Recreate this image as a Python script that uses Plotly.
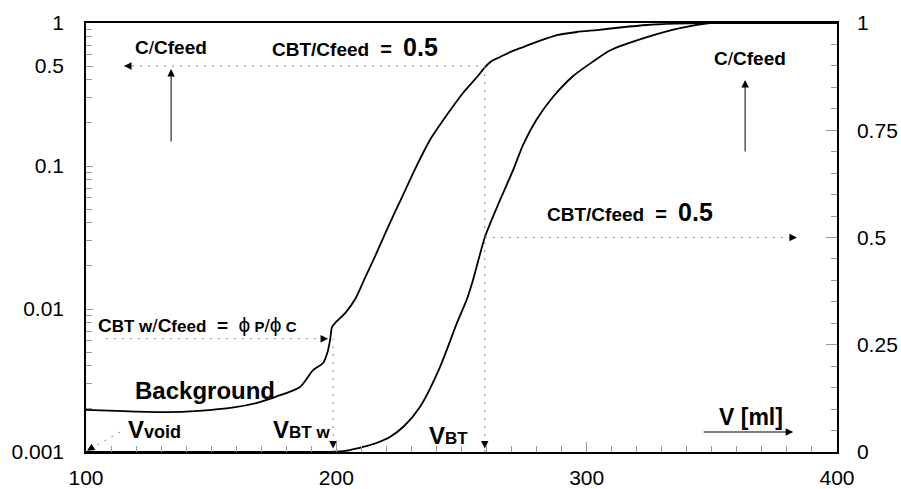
import numpy as np
import plotly.graph_objects as go

# ---- data ----
# background / breakthrough curve on log axis (left)
log_x = [100, 115, 132, 145, 159, 168, 176, 185.5, 190.7, 194.7, 196.5, 197.5, 198.3, 200,
         203.6, 207.6, 211.5, 215.5, 219.4, 223.4, 227.4, 231.4, 237.4, 244.2, 250.6,
         256.2, 259.4, 262.2, 265.4, 269.8, 274.6, 281.4, 288.2, 296.1, 304.1, 313.3,
         324.1, 335.3, 345.3, 400]
log_y = [0.00197, 0.00193, 0.00190, 0.00194, 0.00205, 0.00220, 0.00244, 0.00285, 0.00374,
         0.00419, 0.0050, 0.00607, 0.0075, 0.00815, 0.0094, 0.0118, 0.0166, 0.0234,
         0.0334, 0.0475, 0.0670, 0.0948, 0.152, 0.228, 0.324, 0.419, 0.491, 0.544, 0.578,
         0.630, 0.679, 0.754, 0.824, 0.865, 0.893, 0.930, 0.968, 0.989, 1.0, 1.0]

# breakthrough curve on linear axis (right)
lin_x = [100, 190, 197.5, 200, 205, 210.7, 216, 221.4, 227, 233.4, 241.4, 248.2, 252.2,
         254.6, 259.3, 264.2, 270.6, 274.6, 280, 286.6, 294.5, 302.5, 309.3, 324.1, 337.3,
         349.3, 400]
lin_y = [0, 0, 0.0005, 0.001, 0.004, 0.0117, 0.021, 0.035, 0.06, 0.105, 0.198, 0.301,
         0.357, 0.401, 0.5, 0.571, 0.657, 0.716, 0.775, 0.828, 0.876, 0.910, 0.936, 0.967,
         0.988, 1.0, 1.0]

x_ticks = [100, 200, 300, 400]
left_ticks = [0.001, 0.01, 0.1, 0.5, 1]
left_ticktext = ["0.001", "0.01", "0.1", "0.5", "1"]
right_ticks = [0, 0.25, 0.5, 0.75, 1]
right_ticktext = ["0", "0.25", "0.5", "0.75", "1"]

V_BT = 259.3
V_BTW = 198.7
C_W = 0.0062
V_VOID = 100.4

FONT = "Liberation Sans"


def logfrac(v):
    return (np.log10(v) + 3) / 3.0


fig = go.Figure()
fig.add_trace(go.Scatter(x=log_x, y=log_y, mode="lines", yaxis="y",
                         line=dict(color="black", width=1.8, shape="spline",
                                   smoothing=0.7), showlegend=False))
fig.add_trace(go.Scatter(x=lin_x, y=lin_y, mode="lines", yaxis="y2",
                         line=dict(color="black", width=1.8, shape="spline",
                                   smoothing=0.7), showlegend=False))

minor_x = [v for v in range(110, 400, 10) if v not in x_ticks]
minor_log = []
for dec in [0.001, 0.01, 0.1]:
    for m in range(2, 10):
        if not (dec == 0.1 and m == 5):
            minor_log.append(dec * m)

fig.update_layout(
    width=901, height=489,
    margin=dict(l=86, r=64, t=23, b=37),
    paper_bgcolor="white", plot_bgcolor="white",
    font=dict(family=FONT, color="black", size=21),
    xaxis=dict(range=[100, 400], tickmode="array", tickvals=x_ticks,
               ticks="inside", ticklen=10, tickcolor="#999", tickwidth=1,
               minor=dict(tickmode="array", tickvals=minor_x, ticks="inside",
                          ticklen=6, tickcolor="#999", tickwidth=1),
               showline=True, linecolor="black", linewidth=1.5, mirror=True,
               showgrid=False, zeroline=False, automargin=False,
               ticklabelstandoff=6, tickfont=dict(size=21)),
    yaxis=dict(type="log", range=[-3, 0], tickmode="array", tickvals=left_ticks,
               ticktext=left_ticktext, ticks="inside", ticklen=7, tickcolor="#999",
               minor=dict(tickmode="array", tickvals=minor_log, ticks="inside",
                          ticklen=6, tickcolor="#999", tickwidth=1),
               showline=True, linecolor="black", linewidth=1.5,
               showgrid=False, zeroline=False, automargin=False,
               ticklabelstandoff=16, tickfont=dict(size=21)),
    yaxis2=dict(range=[0, 1], overlaying="y", side="right", tickmode="array",
                tickvals=right_ticks, ticktext=right_ticktext, ticks="inside",
                ticklen=11, tickcolor="#999",
                minor=dict(dtick=0.05, ticks="inside", ticklen=6, tickcolor="#999",
                           tickwidth=1),
                showline=True, linecolor="black", linewidth=1.5,
                showgrid=False, zeroline=False, automargin=False,
                ticklabelstandoff=14, tickfont=dict(size=21)),
)

# dotted guide lines
dot = dict(color="#888", width=1, dash="2px,6px")
guides = [
    (115.2, logfrac(0.5), V_BT, logfrac(0.5)),
    (V_BT, 0.0, V_BT, logfrac(0.5)),
    (V_BT, 0.5, 384, 0.5),
    (108, logfrac(C_W), 196.7, logfrac(C_W)),
    (V_BTW, 0.0, V_BTW, logfrac(C_W)),
    (113.6, 0.0466, V_VOID, 0.003),
]
for x0, y0, x1, y1 in guides:
    fig.add_shape(type="line", xref="x", yref="y2", x0=x0, y0=y0, x1=x1, y1=y1,
                  line=dot)

# arrowheads
def arrow(x, y, ax, ay, size=1.5):
    fig.add_annotation(x=x, y=y, xref="x", yref="y2", ax=ax, ay=ay, text="",
                       showarrow=True, arrowhead=2, arrowsize=size, arrowwidth=1,
                       arrowcolor="black")

arrow(115.2, logfrac(0.5), 6, 0)
arrow(V_BT, 0.008, 0, -6)
arrow(384, 0.5, -6, 0)
arrow(196.7, logfrac(C_W), -6, 0)
arrow(V_BTW, 0.008, 0, -6)
arrow(V_VOID, 0.003, 5, -3)
# solid arrows
arrow(134, 0.893, 0, 74)
arrow(363.3, 0.867, 0, 73)
arrow(382.5, 0.0466, -91, 0)


def label(x, y, text, xanchor="center"):
    fig.add_annotation(x=x, y=y, xref="x", yref="y2", text=text, showarrow=False,
                       xanchor=xanchor, yanchor="middle",
                       font=dict(family=FONT, color="black", size=19))


def sp(t, s, bold=True):
    inner = f"<span style='font-size:{s}px'>{t}</span>"
    return f"<b>{inner}</b>" if bold else inner


NB = "\u00a0"
label(133.8, 0.942, sp("C", 19) + sp("/", 19, False) + sp("Cfeed", 19))
label(365.1, 0.918, sp("C", 19) + sp("/", 19, False) + sp("Cfeed", 19))
eq = sp("CBT/Cfeed", 19) + sp(NB + NB + "=" + NB + NB, 20) + sp("0.5", 25)
label(207.5, 0.944, eq)
label(317.3, 0.559, eq)
label(104, 0.298, sp("C", 19) + sp("BT w", 17) + sp("/", 19, False) + sp("C", 19)
      + sp("feed", 17) + sp(NB + NB + "=" + NB + NB, 19) + sp("ϕ", 21, False)
      + sp(NB + "P", 15) + sp("/", 19, False) + sp("ϕ", 21, False)
      + sp(NB + "C", 15), xanchor="left")
label(147.5, 0.1445, sp("Background", 24))
label(127.2, 0.0513, sp("V", 24) + sp("void", 18))
label(186.1, 0.0513, sp("V", 24) + sp("BT w", 17))
label(244.8, 0.0396, sp("V", 24) + sp("BT", 17))
label(365.5, 0.0816, sp("V [ml]", 23))

fig.write_html("out.html")
